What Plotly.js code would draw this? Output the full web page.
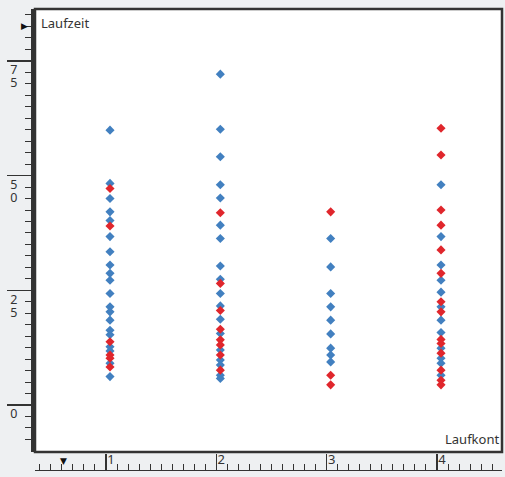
<!DOCTYPE html>
<html>
<head>
<meta charset="utf-8">
<script src="https://cdn.plot.ly/plotly-3.0.1.min.js"></script>
<style>html,body{margin:0;padding:0;background:#eef0f2;}#chart{width:505px;height:477px;}</style>
</head>
<body>
<div id="chart"></div>
<script>
// Laufkont categories
const categories = [1, 2, 3, 4];
// Laufzeit values per category, split by colour group
const blueValues = [
  [59.9, 48.3, 45.0, 42.1, 40.2, 36.7, 33.4, 30.5, 28.7, 27.2, 24.3, 21.4, 20.3, 18.5, 16.3, 15.3, 12.7, 11.8, 9.1, 6.2],
  [72.1, 60.1, 54.1, 48.0, 45.1, 39.2, 36.3, 30.3, 27.4, 24.3, 21.6, 18.7, 15.6, 12.0, 9.8, 8.7, 6.5, 5.8],
  [36.3, 30.1, 24.3, 21.4, 18.5, 15.5, 12.4, 10.9, 9.4],
  [48.0, 36.7, 30.5, 27.2, 24.6, 21.4, 18.5, 15.8, 12.4, 10.2, 9.1, 6.5]
];
const redValues = [
  [47.2, 39.0, 13.8, 10.9, 10.2, 8.3],
  [41.9, 26.5, 20.6, 16.5, 14.2, 13.1, 10.9, 7.6],
  [42.1, 6.5, 4.4],
  [60.3, 54.5, 42.5, 39.2, 33.8, 28.7, 22.5, 20.3, 14.3, 13.4, 11.3, 7.6, 5.4, 4.4]
];
const yTickVals = [0, 25, 50, 75];
// tick labels are drawn as stacked digits: first digit and second digit
const yTickTextFirst = ['0', '2', '5', '7'];
const yTickTextSecond = ['', '5', '0', '5'];
const xTickVals = [1, 2, 3, 4];
const xTickText = ['1', '2', '3', '4'];

function flatten(vals) {
  const xs = [], ys = [];
  vals.forEach((arr, i) => arr.forEach(v => { xs.push(categories[i]); ys.push(v); }));
  return {xs, ys};
}
const b = flatten(blueValues), r = flatten(redValues);

const traces = [
  {type: 'scatter', mode: 'markers', x: b.xs, y: b.ys, xaxis: 'x', yaxis: 'y',
   marker: {symbol: 'diamond', size: 7, color: '#4280c0', line: {width: 0}}, hoverinfo: 'none'},
  {type: 'scatter', mode: 'markers', x: r.xs, y: r.ys, xaxis: 'x', yaxis: 'y',
   marker: {symbol: 'diamond', size: 7, color: '#e0262c', line: {width: 0}}, hoverinfo: 'none'},
  {type: 'scatter', mode: 'markers', x: [], y: [], xaxis: 'x2', yaxis: 'y', hoverinfo: 'none', showlegend: false},
  {type: 'scatter', mode: 'markers', x: [], y: [], xaxis: 'x', yaxis: 'y2', hoverinfo: 'none', showlegend: false}
];

const fam = 'Noto Sans, DejaVu Sans, sans-serif';
const yCommon = {
  domain: [0.039, 1],
  range: [-10.24, 86.3], fixedrange: true,
  showgrid: false, zeroline: false,
  showline: true, linecolor: '#333', linewidth: 4,
  tickmode: 'array', tickvals: yTickVals,
  ticks: 'outside', ticklen: 24, tickwidth: 1.5,
  ticklabelstandoff: -13,
  tickfont: {family: fam, size: 12.5, color: '#333'}
};

const layout = {
  width: 505, height: 477,
  margin: {l: 35, r: 3, t: 9, b: 7, pad: 0},
  paper_bgcolor: '#eef0f2',
  plot_bgcolor: '#ffffff',
  showlegend: false,
  font: {family: fam, size: 13, color: '#333'},
  xaxis: {
    range: [0.3202, 4.5529], visible: false, fixedrange: true
  },
  xaxis2: {
    overlaying: 'x', anchor: 'free', position: 0,
    range: [0.3565, 4.5892], fixedrange: true,
    showgrid: false, zeroline: false, showline: true, linecolor: '#333', linewidth: 1,
    tickmode: 'array', tickvals: xTickVals, ticktext: xTickText,
    ticks: 'inside', ticklen: 16, tickwidth: 1.5, tickcolor: '#333',
    ticklabelposition: 'inside right',
    tickfont: {family: fam, size: 13, color: '#333'},
    minor: {dtick: 0.1, tick0: 0, ticks: 'inside', ticklen: 6, tickwidth: 1, tickcolor: '#333', showgrid: false}
  },
  yaxis: Object.assign({}, yCommon, {
    ticktext: yTickTextFirst, tickcolor: '#333', ticklabelshift: 9,
    minor: {dtick: 2.5, tick0: 0, ticks: 'outside', ticklen: 6, tickwidth: 1, tickcolor: '#333', showgrid: false}
  }),
  yaxis2: Object.assign({}, yCommon, {
    overlaying: 'y', anchor: 'x', side: 'left',
    ticktext: yTickTextSecond, tickcolor: 'rgba(0,0,0,0)', ticklabelshift: 22
  }),
  shapes: [
    {type: 'rect', xref: 'x domain', yref: 'y domain', x0: 0, x1: 1, y0: 0, y1: 1,
     line: {color: '#333', width: 2.5}, fillcolor: 'rgba(0,0,0,0)'}
  ],
  annotations: [
    {text: 'Laufzeit', xref: 'paper', yref: 'paper', x: 0.008, y: 0.993, xanchor: 'left', yanchor: 'top',
     showarrow: false, font: {family: fam, size: 13, color: '#333'}},
    {text: 'Laufkont', xref: 'paper', yref: 'y domain', x: 0.998, y: 0.005, xanchor: 'right', yanchor: 'bottom',
     showarrow: false, font: {family: fam, size: 13, color: '#333'}},
    {text: '▶', xref: 'paper', yref: 'paper', x: -0.022, y: 0.965, xanchor: 'center', yanchor: 'middle',
     showarrow: false, font: {size: 9, color: '#111'}},
    {text: '▼', xref: 'paper', yref: 'paper', x: 0.06, y: 0.02, xanchor: 'center', yanchor: 'middle',
     showarrow: false, font: {size: 9, color: '#111'}}
  ]
};

Plotly.newPlot('chart', traces, layout, {displayModeBar: false, staticPlot: true});
</script>
</body>
</html>
